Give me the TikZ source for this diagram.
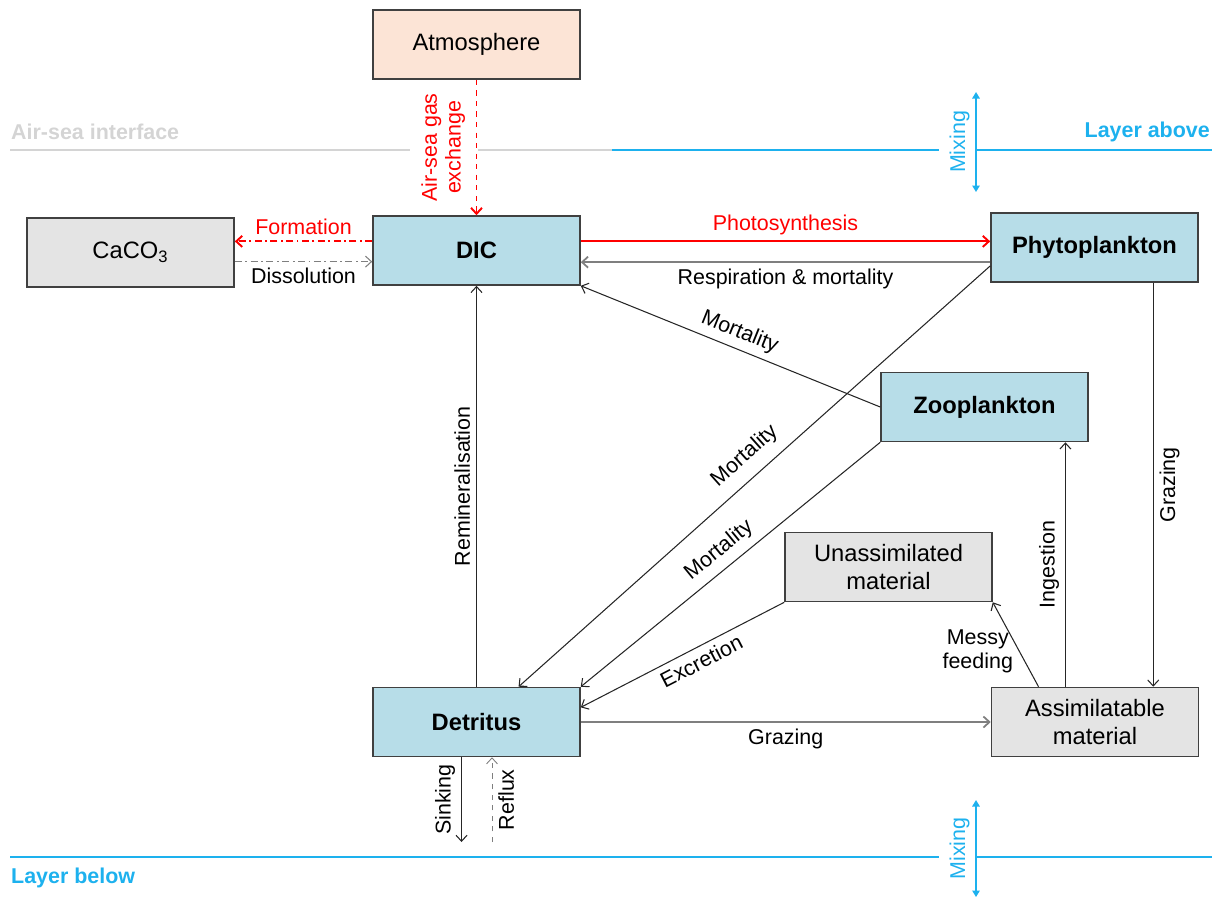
\documentclass[tikz,border=0pt]{standalone}
\usepackage{fontspec}
\setmainfont{Liberation Sans}
\usepackage{tikz}
\usetikzlibrary{arrows.meta}

\definecolor{boxblue}{HTML}{B7DDE8}
\definecolor{boxgray}{HTML}{E4E4E4}
\definecolor{boxpeach}{HTML}{FCE4D6}
\definecolor{layerblue}{HTML}{1DB1EE}
\definecolor{interfacegray}{HTML}{D4D4D4}
\definecolor{fluxgray}{HTML}{7F7F7F}
\definecolor{fluxred}{HTML}{FF0000}

\begin{document}
\begin{tikzpicture}[x=0.02cm, y=-0.02cm,
    >={Straight Barb[length=1.2mm,width=2.2mm]},
    box/.style={rectangle,
                draw=black!75,
                line width=0.9pt,
                minimum width=4.14cm,  % 207px boxes
                minimum height=1.38cm,
                align=center,
                font=\fontsize{13.5}{16}\selectfont},
    bluebox/.style={box, fill=boxblue, font=\fontsize{13.5}{16}\selectfont\bfseries},
    graybox/.style={box, fill=boxgray},
    flux/.style={->, line width=0.6pt, draw=black!85},
    redflux/.style={->, line width=1.1pt, color=fluxred},
    fluxlabel/.style={font=\fontsize{12.2}{13.5}\selectfont, text=black, align=center},
    layerlabel/.style={font=\fontsize{12.2}{14.5}\selectfont\bfseries},
    mixarrow/.style={{Triangle[length=1.3mm,width=1.5mm]}-{Triangle[length=1.3mm,width=1.5mm]},
                     layerblue, line width=0.8pt}]

  \useasboundingbox (0,0) rectangle (1220,897);

  % Interface and layer boundaries
  \draw[interfacegray, line width=0.8pt] (10,150) -- (410,150) (478,150) -- (612,150);
  \draw[layerblue, line width=0.8pt] (612,150) -- (939,150) (976,150) -- (1212,150);
  \draw[layerblue, line width=0.8pt] (10,857) -- (939,857) (976,857) -- (1212,857);
  \node[layerlabel, text=interfacegray, anchor=west] (AirSea) at (5,132) {Air-sea interface};
  \node[layerlabel, text=layerblue, anchor=east] (Above) at (1216,132) {Layer above};
  \node[layerlabel, text=layerblue, anchor=west] (Below) at (5,878) {Layer below};

  \coordinate (MixATop) at (976,92);
  \coordinate (MixABot) at (976,192);
  \coordinate (MixBTop) at (976,800);
  \coordinate (MixBBot) at (976,897);
  \draw[mixarrow] (MixATop) -- node[rotate=90, anchor=south, fluxlabel, text=layerblue] {Mixing} (MixABot);
  \draw[mixarrow] (MixBTop) -- node[rotate=90, anchor=south, fluxlabel, text=layerblue] {Mixing} (MixBBot);

  % Define the pools
  \node[box, fill=boxpeach] (Atmosphere) at (476.5,44.5) {\raisebox{-2pt}{Atmosphere}};
  \node[graybox] (CaCO3) at (130.5,252.5) {CaCO\textsubscript{3}};
  \node[bluebox] (DIC) at (476.5,250.5) {DIC};
  \node[bluebox] (Phyto) at (1094.5,247.5) {\raisebox{-2pt}{Phytoplankton}};
  \node[bluebox] (Zoo) at (984.5,407) {\raisebox{-2pt}{Zooplankton}};
  \node[graybox] (Unassim) at (888.5,567) {Unassimilated\\material};
  \node[bluebox] (Detritus) at (476.5,722) {Detritus};
  \node[graybox] (Assim) at (1095,722) {Assimilatable\\material};

  % Carbon fluxes
  \draw[redflux, dashed] (Atmosphere.south) -- node[rotate=90, anchor=south, inner sep=6pt, fluxlabel, text=fluxred] {Air-sea gas\\exchange} (DIC.north);
  \draw[redflux, dash pattern=on 4pt off 2pt on 1pt off 2pt] (DIC.175) -- node[above, fluxlabel, text=fluxred] {Formation} (DIC.175 -| CaCO3.east);
  \draw[flux, draw=fluxgray, dash pattern=on 4pt off 2pt on 1pt off 2pt] (CaCO3.-5.3) -- node[below, fluxlabel] {Dissolution} (CaCO3.-5.3 -| DIC.west);
  \draw[redflux] (DIC.5.8) -- node[above, fluxlabel, text=fluxred] {Photosynthesis} (DIC.5.8 -| Phyto.west);
  \draw[flux, draw=fluxgray, line width=1pt] (Phyto.188) -- node[below, fluxlabel] {Respiration \& mortality} (Phyto.188 -| DIC.east);

  \draw[flux] (Zoo.west) -- node[pos=0.49, sloped, above, fluxlabel] {Mortality} (DIC.south east);
  \draw[flux] (Phyto.190) -- node[pos=0.49, sloped, above=3pt, fluxlabel] {Mortality} (Detritus.40);
  \draw[flux] (Zoo.south west) -- node[pos=0.5, sloped, above=1pt, fluxlabel] {Mortality} (Detritus.north east);
  \draw[flux] (Unassim.south west) -- node[pos=0.44, sloped, below, fluxlabel] {Excretion} (Detritus.8);
  \draw[flux] (Assim.148) -- node[pos=0.42, left, align=left, fluxlabel] {Messy\\feeding} (Unassim.south east);
  \draw[flux] (Assim.130.5) -- node[sloped, above, fluxlabel] {Ingestion} (Assim.130.5 |- Zoo.south);
  \draw[flux] (Phyto.-31.4) -- node[rotate=90, anchor=north, fluxlabel] {Grazing} (Phyto.-31.4 |- Assim.north);
  \draw[flux, draw=fluxgray, line width=1pt] (Detritus.east) -- node[below, fluxlabel] {Grazing} (Assim.west);
  \draw[flux] (Detritus.north) -- node[sloped, above, fluxlabel] {Remineralisation} (DIC.south);

  % Exchange with the layer below
  \coordinate (SinkEnd) at (462,842);
  \coordinate (RefluxStart) at (492,842);
  \draw[flux] (Detritus.247.6) -- node[rotate=90, anchor=south, fluxlabel] {Sinking} (Detritus.247.6 |- SinkEnd);
  \draw[flux, draw=fluxgray, dashed, line width=0.5pt] (RefluxStart) -- node[sloped, below, fluxlabel] {Reflux} (RefluxStart |- Detritus.south);

\end{tikzpicture}
\end{document}
